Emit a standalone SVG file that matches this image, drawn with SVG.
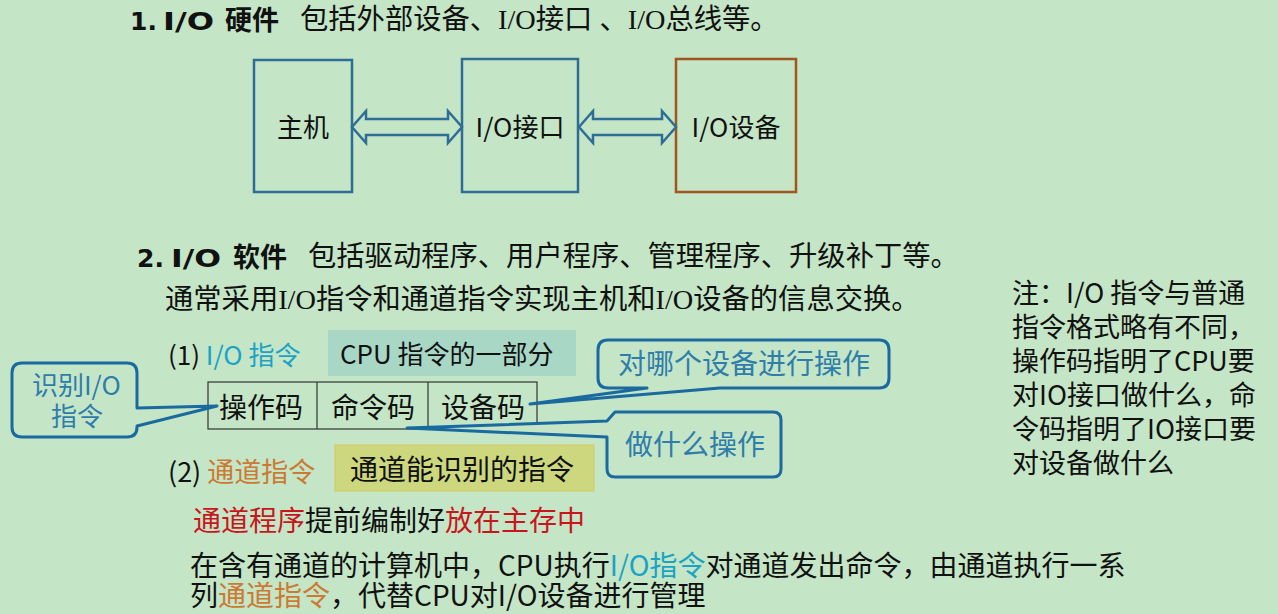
<svg xmlns="http://www.w3.org/2000/svg" width="1278" height="614" viewBox="0 0 1278 614">
<style>
.sans{font-family:"Noto Sans CJK SC","Noto Sans",sans-serif;fill:#111}
.serif{font-family:"Liberation Serif","Noto Sans CJK SC",serif;fill:#111}
.head{font-family:"DejaVu Sans","Noto Sans CJK SC",sans-serif;font-weight:bold;fill:#111}
.bold{font-weight:bold}
.box{fill:none;stroke:#2E6E96;stroke-width:2.5}
.dev{fill:none;stroke:#A0561E;stroke-width:2.5}
.arrow{fill:none;stroke:#2E6E96;stroke-width:2.5;stroke-linejoin:miter}
.call{fill:#C4E5C6;stroke:#1A6AA0;stroke-width:3;stroke-linejoin:round}
.calltext{fill:#2E7DAA}
.teal{fill:#1AA3C5}
.orange{fill:#CC7A33}
.red{fill:#C8161D}
.field{fill:none;stroke:#333;stroke-width:1.2}
</style>
<rect width="1278" height="614" fill="#C4E5C6"/>

<g id="heading1">
<text x="130" y="30" class="head" font-size="25">1. <tspan x="163" textLength="51" lengthAdjust="spacingAndGlyphs">I/O</tspan></text>
<text x="225" y="30" class="sans bold" font-size="27">硬件</text>
<text x="300" y="29" class="serif" font-size="28.3">包括外部设备、I/O接口 、I/O总线等。</text>
</g>

<g id="host">
<rect x="254" y="60" width="98" height="132" class="box"/>
<text x="303" y="137" class="sans" font-size="26" text-anchor="middle">主机</text>
</g>
<g id="io-interface">
<rect x="462" y="59" width="116" height="133" class="box"/>
<text x="520" y="137" class="sans" font-size="26" text-anchor="middle">I/O接口</text>
</g>
<g id="io-device">
<rect x="676" y="59" width="120" height="133" class="dev"/>
<text x="736" y="137" class="sans" font-size="26" text-anchor="middle">I/O设备</text>
</g>

<g id="connectors">
<path class="arrow" d="M352,127 L366,111 L366,119 L448,119 L448,111 L462,127 L448,143 L448,135 L366,135 L366,143 Z"/>
<path class="arrow" d="M579,127 L593,111 L593,119 L662,119 L662,111 L676,127 L662,143 L662,135 L593,135 L593,143 Z"/>
</g>

<g id="heading2">
<text x="137" y="267" class="head" font-size="25">2. <tspan x="171" textLength="50" lengthAdjust="spacingAndGlyphs">I/O</tspan></text>
<text x="233" y="267" class="sans bold" font-size="27">软件</text>
<text x="308" y="266" class="serif" font-size="28.3">包括驱动程序、用户程序、管理程序、升级补丁等。</text>
<text x="165" y="309" class="serif" font-size="28.3">通常采用I/O指令和通道指令实现主机和I/O设备的信息交换。</text>
</g>

<g id="io-instr">
<text x="168" y="365" class="sans" font-size="26">(1) <tspan class="teal">I/O 指令</tspan></text>
<rect x="328" y="330" width="248" height="46" fill="#A8D7C6"/>
<text x="340" y="364" class="sans" font-size="26">CPU 指令的一部分</text>
</g>

<g id="fields">
<rect x="208" y="382" width="329" height="47" class="field"/>
<line x1="317" y1="382" x2="317" y2="429" class="field"/>
<line x1="428" y1="382" x2="428" y2="429" class="field"/>
<text x="219" y="418" class="sans" font-size="28">操作码</text>
<text x="331" y="418" class="sans" font-size="28">命令码</text>
<text x="441" y="418" class="sans" font-size="28">设备码</text>
</g>

<g id="callout-identify">
<path class="call" d="M22,363 H127 Q137,363 137,373 V408 L217,406 L137,426 V427 Q137,437 127,437 H22 Q12,437 12,427 V373 Q12,363 22,363 Z"/>
<text x="32" y="395" class="sans calltext" font-size="26">识别I/O</text>
<text x="77" y="426" class="sans calltext" font-size="26" text-anchor="middle">指令</text>
</g>

<g id="callout-device">
<path class="call" d="M608,340 H879 Q889,340 889,350 V378 Q889,388 879,388 H720 L530,404 L647,388 H608 Q598,388 598,378 V350 Q598,340 608,340 Z"/>
<text x="618" y="374" class="sans calltext" font-size="28">对哪个设备进行操作</text>
</g>

<g id="callout-op">
<path class="call" d="M615,412 H773 Q781,412 781,420 V469 Q781,477 773,477 H615 Q607,477 607,469 V437 L407,428 L607,421 Z"/>
<text x="625" y="455" class="sans calltext" font-size="28">做什么操作</text>
</g>

<g id="channel-instr">
<text x="168" y="482" class="sans" font-size="27">(2) <tspan class="orange">通道指令</tspan></text>
<rect x="335" y="445" width="259" height="46" fill="#CCD77E" stroke="#D8C860" stroke-width="1"/>
<text x="350" y="480" class="sans" font-size="28">通道能识别的指令</text>
<text x="193" y="531" class="sans" font-size="28"><tspan class="red">通道程序</tspan>提前编制好<tspan class="red">放在主存中</tspan></text>
<text x="190" y="576" class="sans" font-size="28">在含有通道的计算机中，CPU执行<tspan class="teal">I/O指令</tspan>对通道发出命令，由通道执行一系</text>
<text x="190" y="606" class="sans" font-size="28">列<tspan class="orange">通道指令</tspan>，代替CPU对I/O设备进行管理</text>
</g>

<g id="note">
<text class="sans" font-size="27">
<tspan x="1012" y="303">注：I/O 指令与普通</tspan>
<tspan x="1012" y="337">指令格式略有不同，</tspan>
<tspan x="1012" y="371">操作码指明了CPU要</tspan>
<tspan x="1012" y="405">对IO接口做什么，命</tspan>
<tspan x="1012" y="439">令码指明了IO接口要</tspan>
<tspan x="1012" y="473">对设备做什么</tspan>
</text>
</g>
</svg>
